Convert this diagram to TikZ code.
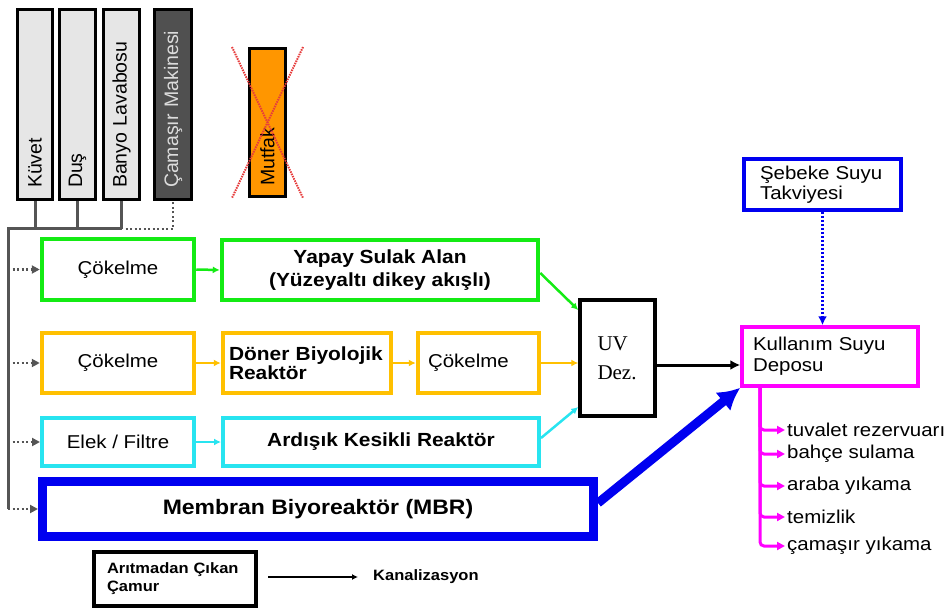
\documentclass[tikz,border=0pt]{standalone}
\usepackage{fontspec}
\setmainfont{Liberation Sans}[FakeStretch=1.1]
\newfontfamily\rotfont{Liberation Sans}
\newfontfamily\uvfont{Liberation Serif}
\usetikzlibrary{arrows.meta}
\definecolor{cgreen}{RGB}{20,235,20}
\definecolor{corange}{RGB}{255,192,0}
\definecolor{ccyan}{RGB}{40,228,240}
\definecolor{cblue}{RGB}{0,0,240}
\definecolor{cmag}{RGB}{255,0,255}
\definecolor{cbus}{RGB}{85,85,85}
\definecolor{ctop}{RGB}{230,230,230}
\definecolor{cwash}{RGB}{80,80,80}
\definecolor{cwtext}{RGB}{220,220,220}
\definecolor{cmut}{RGB}{255,150,0}
\definecolor{cred}{RGB}{230,60,60}
\newcommand\freg{\fontsize{18.6}{21}\selectfont}
\newcommand\fbold{\fontsize{19}{23}\selectfont\bfseries}
\begin{document}
\begin{tikzpicture}[x=1pt,y=-1pt,
  topbox/.style={rectangle, draw=black, line width=3pt, fill=ctop, rotate=90, inner sep=0pt,
    minimum width=190pt, minimum height=35pt, text width=167pt, align=left,
    font=\rotfont\fontsize{19.5}{21}\selectfont},
  cbox/.style={rectangle, draw=#1, line width=4.5pt, inner sep=0pt, align=center, font=\freg},
  flow/.style={draw=#1, line width=2.5pt, -{Latex[length=7pt,width=7pt]}},
  bus/.style={draw=cbus, line width=3pt},
  dotbus/.style={draw=cbus, line width=2.5pt, dash pattern=on 2pt off 2.5pt},
  feed/.style={draw=cbus, line width=2.5pt, dash pattern=on 2pt off 2.5pt, -{Triangle[length=8pt,width=8pt]}},
  outtxt/.style={anchor=west, inner sep=0pt, font=\freg},
  outarr/.style={draw=cmag, line width=3pt, rounded corners=4pt, -{Triangle[length=8pt,width=8pt]}, shorten >=2pt},
  cross/.style={draw=cred, line width=2pt, dash pattern=on 1.5pt off 1pt}
]
\useasboundingbox (0,0) rectangle (952,612);

% top sources (rotated: west anchor = bottom of the box on the page)
\node[topbox] (kuv) at (35,104.5) {Küvet};
\node[topbox, minimum height=36pt] (dus) at (77.5,104.5) {Duş};
\node[topbox, minimum height=36pt] (ban) at (121.5,104.5) {Banyo Lavabosu};
\node[topbox, minimum height=37pt, fill=cwash, text=cwtext] (cam) at (173,104.5) {Çamaşır Makinesi};
\node[topbox, minimum width=148pt, minimum height=36pt, text width=127pt, fill=cmut] (mut) at (267.5,122.5) {Mutfak};
\draw[cross] ([xshift=-16pt]mut.north east) -- ([xshift=16pt]mut.south west);
\draw[cross] ([xshift=16pt]mut.south east) -- ([xshift=-16pt]mut.north west);

% bus
\coordinate (bustop) at (8,229);
\coordinate (busbot) at (8,509);
\draw[bus] (kuv.west) -- (kuv.west |- bustop);
\draw[bus] (dus.west) -- (dus.west |- bustop);
\draw[bus] (ban.west) -- (ban.west |- bustop);
\draw[bus] (ban.west |- bustop) -- (bustop) -- (busbot);
\draw[dotbus] ([xshift=4pt]ban.west |- bustop) -- (cam.west |- bustop) -- (cam.west);

% rows
\node[cbox=cgreen, minimum width=152pt, minimum height=61pt] (gc1) at (118,269.5) {Çökelme};
\node[cbox=cgreen, minimum width=316pt, minimum height=60pt, font=\fbold] (gy) at (380,270)
  {Yapay Sulak Alan\\(Yüzeyaltı dikey akışlı)};

\node[cbox=corange, minimum width=152pt, minimum height=60pt] (oc1) at (118,363) {Çökelme};
\node[cbox=corange, minimum width=168pt, minimum height=60pt, text width=156pt, align=left,
  font=\fontsize{19}{19}\selectfont\bfseries] (od) at (307,363) {Döner Biyolojik\\Reaktör};
\node[cbox=corange, minimum width=121pt, minimum height=60pt, text width=101pt, align=left] (oc2) at (478.5,363) {Çökelme};

\node[cbox=ccyan, line width=4pt, minimum width=152pt, minimum height=48pt] (ce) at (118,442) {Elek / Filtre};
\node[cbox=ccyan, line width=4pt, minimum width=316pt, minimum height=48pt, font=\fbold] (ca) at (381,442) {Ardışık Kesikli Reaktör};

\node[cbox=cblue, line width=9pt, minimum width=551pt, minimum height=55pt,
  font=\fontsize{20.9}{23}\selectfont\bfseries] (mbr) at (318,509) {Membran Biyoreaktör (MBR)};

\node[rectangle, draw=black, line width=3.5pt, minimum width=75pt, minimum height=116pt, inner sep=0pt,
  text width=40pt, align=left, font=\uvfont\fontsize{21}{29}\selectfont] (uv) at (617.5,358) {UV\\Dez.};

\node[rectangle, draw=cmag, line width=3.5pt, minimum width=176pt, minimum height=59pt, inner sep=0pt,
  text width=154pt, align=left, font=\fontsize{18.6}{21}\selectfont] (kul) at (830,356.5) {Kullanım Suyu\\Deposu};
\node[rectangle, draw=cblue, line width=4pt, minimum width=157pt, minimum height=51pt, inner sep=0pt,
  text width=125pt, align=left, font=\fontsize{18.6}{20}\selectfont] (seb) at (822.5,184.5) {Şebeke Suyu\\Takviyesi};

\node[rectangle, draw=black, line width=4pt, minimum width=162pt, minimum height=54pt, inner sep=0pt,
  text width=136pt, align=left, font=\fontsize{15}{18}\selectfont\bfseries] (ari) at (175,579) {Arıtmadan Çıkan\\Çamur};
\node[anchor=west, inner sep=0pt, font=\fontsize{15}{18}\selectfont\bfseries] (kan) at (373,577) {Kanalizasyon};

% feeds from bus
\draw[feed] (bustop |- gc1.west) -- (gc1.west);
\draw[feed] (bustop |- oc1.west) -- (oc1.west);
\draw[feed] (bustop |- ce.west) -- (ce.west);
\draw[feed] (bustop |- mbr.west) -- (mbr.west);

% flows
\draw[flow=cgreen] (gc1.east) -- (gy.west);
\draw[flow=cgreen] ([yshift=-3pt]gy.east) -- ([yshift=48pt]uv.west);
\draw[flow=corange] (oc1.east) -- (od.west);
\draw[flow=corange] (od.east) -- (oc2.west);
\draw[flow=corange] (oc2.east) -- (oc2.east -| uv.west);
\draw[flow=ccyan] (ce.east) -- (ca.west);
\draw[flow=ccyan] ([yshift=4pt]ca.east) -- ([yshift=-49pt]uv.west);
\draw[draw=black, line width=3pt, -{Latex[length=10pt,width=10pt]}] ([yshift=-7pt]uv.east) -- ([yshift=-7pt]uv.east -| kul.west);
\draw[draw=cblue, line width=9pt, -{Latex[length=22pt,width=24pt]}] ([yshift=6pt]mbr.east) -- (kul.south west);
\draw[draw=cblue, line width=2.5pt, dash pattern=on 2pt off 2pt, -{Latex[length=9pt,width=9pt]}] (seb.south) -- (seb.south |- kul.north);
\draw[draw=black, line width=2pt, -{Latex[length=6pt,width=6pt]}, shorten >=15pt] ([xshift=10pt]ari.east |- kan.west) -- (kan.west);

% outputs
\coordinate (mtop) at (760,388);
\node[outtxt] (o1) at (787,430) {tuvalet rezervuarı};
\node[outtxt] (o2) at (787,454) {bahçe sulama};
\node[outtxt] (o3) at (787,486) {araba yıkama};
\node[outtxt] (o4) at (787,517) {temizlik};
\node[outtxt] (o5) at (787,546) {çamaşır yıkama};
\foreach \o in {o1,o2,o3,o4,o5} { \draw[outarr] (mtop) |- (\o.west); }
\end{tikzpicture}
\end{document}
